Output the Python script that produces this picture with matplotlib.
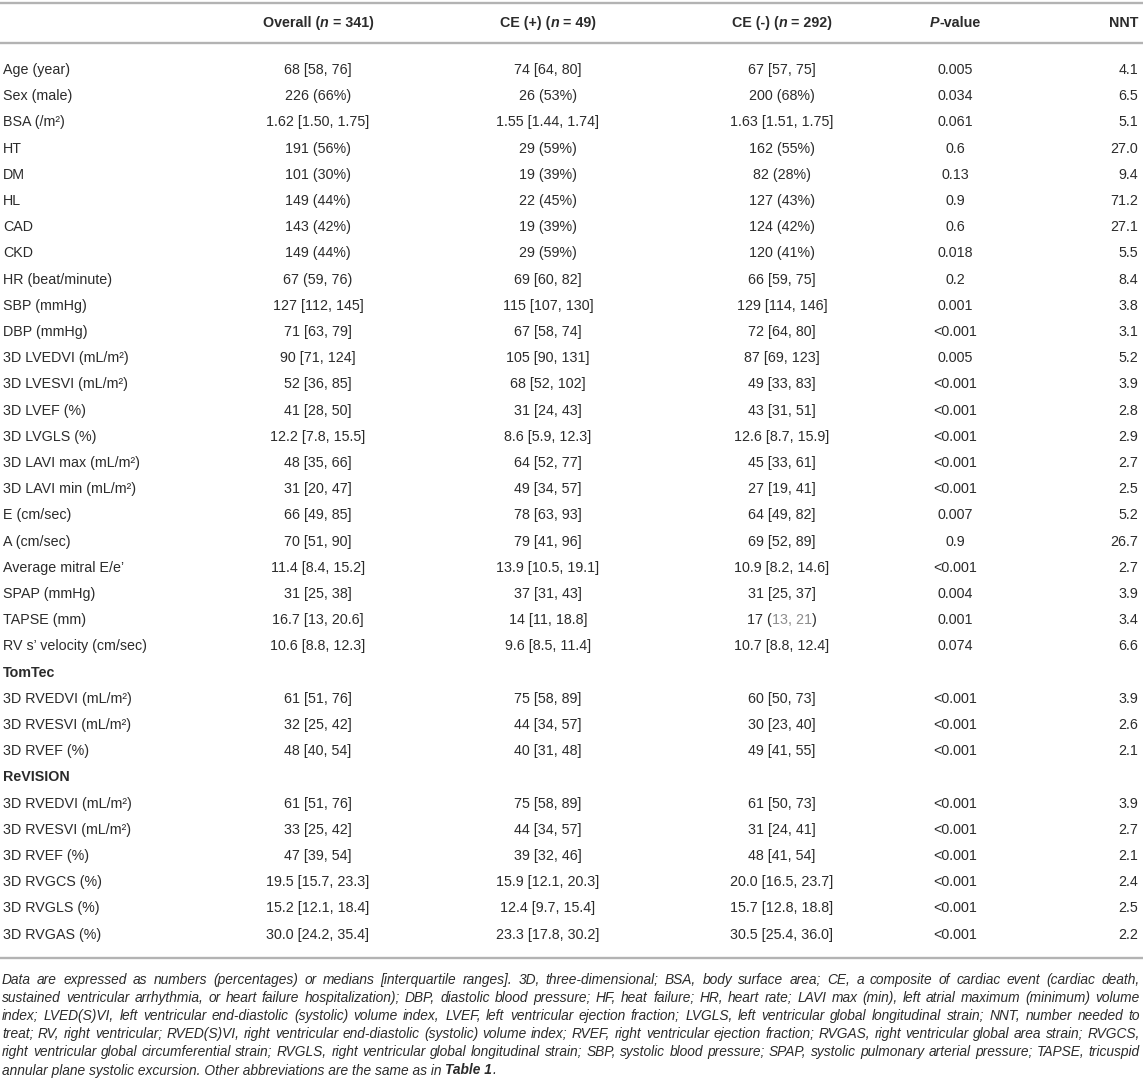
import matplotlib
matplotlib.use("Agg")
import matplotlib.pyplot as plt

plt.rcParams['font.family'] = ['Liberation Sans', 'DejaVu Sans']

# table content
labels = ["Age (year)", "Sex (male)", "BSA (/m²)", "HT", "DM", "HL", "CAD", "CKD",
          "HR (beat/minute)", "SBP (mmHg)", "DBP (mmHg)", "3D LVEDVI (mL/m²)",
          "3D LVESVI (mL/m²)", "3D LVEF (%)", "3D LVGLS (%)", "3D LAVI max (mL/m²)",
          "3D LAVI min (mL/m²)", "E (cm/sec)", "A (cm/sec)", "Average mitral E/e’",
          "SPAP (mmHg)", "TAPSE (mm)", "RV s’ velocity (cm/sec)", "TomTec",
          "3D RVEDVI (mL/m²)", "3D RVESVI (mL/m²)", "3D RVEF (%)", "ReVISION",
          "3D RVEDVI (mL/m²)", "3D RVESVI (mL/m²)", "3D RVEF (%)", "3D RVGCS (%)",
          "3D RVGLS (%)", "3D RVGAS (%)"]
section_rows = ["TomTec", "ReVISION"]

overall = ["68 [58, 76]", "226 (66%)", "1.62 [1.50, 1.75]", "191 (56%)", "101 (30%)",
           "149 (44%)", "143 (42%)", "149 (44%)", "67 (59, 76)", "127 [112, 145]",
           "71 [63, 79]", "90 [71, 124]", "52 [36, 85]", "41 [28, 50]", "12.2 [7.8, 15.5]",
           "48 [35, 66]", "31 [20, 47]", "66 [49, 85]", "70 [51, 90]", "11.4 [8.4, 15.2]",
           "31 [25, 38]", "16.7 [13, 20.6]", "10.6 [8.8, 12.3]", "",
           "61 [51, 76]", "32 [25, 42]", "48 [40, 54]", "",
           "61 [51, 76]", "33 [25, 42]", "47 [39, 54]", "19.5 [15.7, 23.3]",
           "15.2 [12.1, 18.4]", "30.0 [24.2, 35.4]"]
ce_pos = ["74 [64, 80]", "26 (53%)", "1.55 [1.44, 1.74]", "29 (59%)", "19 (39%)",
          "22 (45%)", "19 (39%)", "29 (59%)", "69 [60, 82]", "115 [107, 130]",
          "67 [58, 74]", "105 [90, 131]", "68 [52, 102]", "31 [24, 43]", "8.6 [5.9, 12.3]",
          "64 [52, 77]", "49 [34, 57]", "78 [63, 93]", "79 [41, 96]", "13.9 [10.5, 19.1]",
          "37 [31, 43]", "14 [11, 18.8]", "9.6 [8.5, 11.4]", "",
          "75 [58, 89]", "44 [34, 57]", "40 [31, 48]", "",
          "75 [58, 89]", "44 [34, 57]", "39 [32, 46]", "15.9 [12.1, 20.3]",
          "12.4 [9.7, 15.4]", "23.3 [17.8, 30.2]"]
ce_neg = ["67 [57, 75]", "200 (68%)", "1.63 [1.51, 1.75]", "162 (55%)", "82 (28%)",
          "127 (43%)", "124 (42%)", "120 (41%)", "66 [59, 75]", "129 [114, 146]",
          "72 [64, 80]", "87 [69, 123]", "49 [33, 83]", "43 [31, 51]", "12.6 [8.7, 15.9]",
          "45 [33, 61]", "27 [19, 41]", "64 [49, 82]", "69 [52, 89]", "10.9 [8.2, 14.6]",
          "31 [25, 37]", "17 (13, 21)", "10.7 [8.8, 12.4]", "",
          "60 [50, 73]", "30 [23, 40]", "49 [41, 55]", "",
          "61 [50, 73]", "31 [24, 41]", "48 [41, 54]", "20.0 [16.5, 23.7]",
          "15.7 [12.8, 18.8]", "30.5 [25.4, 36.0]"]
ce_neg_grey = {21: "13, 21"}
pvals = ["0.005", "0.034", "0.061", "0.6", "0.13", "0.9", "0.6", "0.018", "0.2", "0.001",
         "<0.001", "0.005", "<0.001", "<0.001", "<0.001", "<0.001", "<0.001", "0.007",
         "0.9", "<0.001", "0.004", "0.001", "0.074", "",
         "<0.001", "<0.001", "<0.001", "",
         "<0.001", "<0.001", "<0.001", "<0.001", "<0.001", "<0.001"]
nnt = ["4.1", "6.5", "5.1", "27.0", "9.4", "71.2", "27.1", "5.5", "8.4", "3.8", "3.1",
       "5.2", "3.9", "2.8", "2.9", "2.7", "2.5", "5.2", "26.7", "2.7", "3.9", "3.4", "6.6",
       "", "3.9", "2.6", "2.1", "", "3.9", "2.7", "2.1", "2.4", "2.5", "2.2"]

footnote = [
    "Data are expressed as numbers (percentages) or medians [interquartile ranges]. 3D, three-dimensional; BSA, body surface area; CE, a composite of cardiac event (cardiac death,",
    "sustained ventricular arrhythmia, or heart failure hospitalization); DBP, diastolic blood pressure; HF, heat failure; HR, heart rate; LAVI max (min), left atrial maximum (minimum) volume",
    "index; LVED(S)VI, left ventricular end-diastolic (systolic) volume index, LVEF, left ventricular ejection fraction; LVGLS, left ventricular global longitudinal strain; NNT, number needed to",
    "treat; RV, right ventricular; RVED(S)VI, right ventricular end-diastolic (systolic) volume index; RVEF, right ventricular ejection fraction; RVGAS, right ventricular global area strain; RVGCS,",
    "right ventricular global circumferential strain; RVGLS, right ventricular global longitudinal strain; SBP, systolic blood pressure; SPAP, systolic pulmonary arterial pressure; TAPSE, tricuspid",
]
footnote_last = [("annular plane systolic excursion. Other abbreviations are the same as in ", "normal"),
                 ("Table 1", "bold"), (".", "normal")]

W, H = 1143, 1087
fig = plt.figure(figsize=(W / 100, H / 100), dpi=100)
ax = fig.add_axes([0, 0, 1, 1])
ax.set_xlim(0, W)
ax.set_ylim(H, 0)
ax.axis('off')
r = fig.canvas.get_renderer()

TXT = '#2b2b2b'
FS = 10.3

_cache = {}


def width(s, **kw):
    key = (s, tuple(sorted(kw.items())))
    if key not in _cache:
        t = ax.text(0, 0, '|' + s + '|', **kw)
        w1 = t.get_window_extent(r).width
        t.remove()
        t = ax.text(0, 0, '||', **kw)
        w0 = t.get_window_extent(r).width
        t.remove()
        _cache[key] = w1 - w0
    return _cache[key]


def runs(x, y, parts, ha='center', **base):
    # parts: list of (text, extra props)
    total = sum(width(s, **{**base, **p}) for s, p in parts)
    cur = x - total / 2 if ha == 'center' else (x - total if ha == 'right' else x)
    for s, p in parts:
        kw = {**base, **p}
        lead = s[:len(s) - len(s.lstrip())]
        xs = cur + (width(lead, **kw) if lead else 0)
        if s.strip():
            ax.text(xs, y, s.strip(), ha='left', va='center', **kw)
        cur += width(s, **kw)


# rules
for yy in (3, 43, 958):
    ax.plot([0, W], [yy, yy], color='#b3b3b3', lw=1.7, solid_capstyle='butt')

x_lab, x_all, x_pos, x_neg, x_p, x_nnt = 3, 318, 548, 782, 955, 1138

# header
hy = 23
hb = dict(fontsize=FS, color=TXT, weight='bold')
runs(x_all, hy, [("Overall (", {}), ("n", {'style': 'italic'}), (" = 341)", {})], **hb)
runs(x_pos, hy, [("CE (+) (", {}), ("n", {'style': 'italic'}), (" = 49)", {})], **hb)
runs(x_neg, hy, [("CE (-) (", {}), ("n", {'style': 'italic'}), (" = 292)", {})], **hb)
runs(x_p, hy, [("P", {'style': 'italic'}), ("-value", {})], **hb)
ax.text(x_nnt, hy, "NNT", ha='right', va='center', **hb)

# body
y0, dy = 70, 26.2
for i, lab in enumerate(labels):
    y = y0 + i * dy
    if lab in section_rows:
        ax.text(x_lab, y, lab, ha='left', va='center', fontsize=FS, color=TXT, weight='bold')
        continue
    ax.text(x_lab, y, lab, ha='left', va='center', fontsize=FS, color=TXT)
    ax.text(x_all, y, overall[i], ha='center', va='center', fontsize=FS, color=TXT)
    ax.text(x_pos, y, ce_pos[i], ha='center', va='center', fontsize=FS, color=TXT)
    if i in ce_neg_grey:
        g = ce_neg_grey[i]
        a, b = ce_neg[i].split(g)
        runs(x_neg, y, [(a, {}), (g, {'color': '#8c8c8c'}), (b, {})], fontsize=FS, color=TXT)
    else:
        ax.text(x_neg, y, ce_neg[i], ha='center', va='center', fontsize=FS, color=TXT)
    ax.text(x_p, y, pvals[i], ha='center', va='center', fontsize=FS, color=TXT)
    ax.text(x_nnt, y, nnt[i], ha='right', va='center', fontsize=FS, color=TXT)

# footnote, justified lines; size picked so the longest line just fits
fx0, fx1 = 2, 1140
probe = max(width(l, fontsize=10, style='italic') for l in footnote)
FN = 10 * (fx1 - fx0 - 4) / probe
fy0, fdy = 980, 18.1
fkw = dict(fontsize=FN, color=TXT, style='italic')
for k, line in enumerate(footnote):
    y = fy0 + k * fdy
    words = line.split(' ')
    ws = [width(w, **fkw) for w in words]
    gap = (fx1 - fx0 - sum(ws)) / (len(words) - 1)
    cur = fx0
    for w, wd in zip(words, ws):
        ax.text(cur, y, w, ha='left', va='center', **fkw)
        cur += wd + gap
y = fy0 + len(footnote) * fdy
runs(fx0, y, [(s, {'weight': wt}) for s, wt in footnote_last], ha='left', **fkw)

fig.savefig("out.png", dpi=100)
